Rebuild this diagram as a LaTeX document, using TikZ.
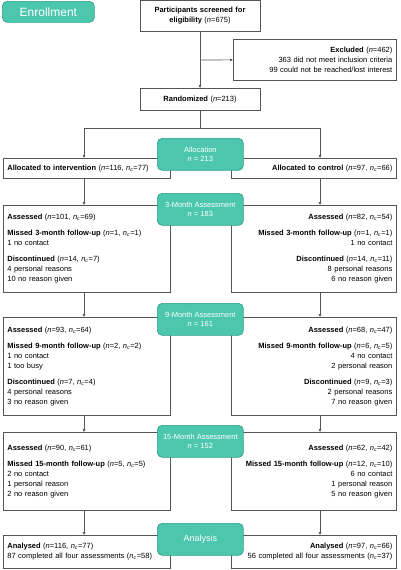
\documentclass[tikz,border=0pt]{standalone}
\usepackage{fontspec}
\setmainfont{Liberation Sans}
\usetikzlibrary{arrows.meta}

\definecolor{tealbox}{HTML}{4CC7AE}
\definecolor{tealedge}{HTML}{2E9E88}
\definecolor{linegray}{HTML}{555555}

\newcommand{\ncount}[2]{(\textit{n}=#1, \textit{n}\textsubscript{\textit{c}}=#2)}

\tikzset{
  box/.style={draw=linegray, fill=white, inner xsep=4pt, inner ysep=4pt,
    font=\fontsize{7.5}{10}\selectfont},
  lbox/.style={box, anchor=north west, text width=159pt, align=left},
  rbox/.style={box, anchor=north west, text width=157pt, align=right},
  phase/.style={draw=tealedge, fill=tealbox, rounded corners=5pt, text=white,
    font=\fontsize{7.5}{9.5}\selectfont, minimum width=86pt, minimum height=32pt,
    align=center, anchor=north west},
  conn/.style={draw=linegray, -{Triangle[length=3pt,width=2.5pt]}},
}

\begin{document}
\begin{tikzpicture}[x=1pt,y=-1pt,line width=0.7pt]
  \useasboundingbox (0,0) rectangle (400,570);

  % enrollment
  \node[phase, minimum width=92pt, minimum height=21pt,
    font=\fontsize{12}{14}\selectfont] (enrol) at (2,1) {Enrollment};
  \node[box, anchor=north, text width=112pt, align=center, minimum height=31pt]
    (screen) at (200,0) {\textbf{Participants screened for}\\\textbf{eligibility} (\textit{n}=675)};
  \node[box, anchor=north west, text width=155pt, align=right, minimum height=41pt]
    (excl) at (233,39) {\textbf{Excluded} (\textit{n}=462)\\
      363 did not meet inclusion criteria\\
      99 could not be reached/lost interest};
  \node[box, anchor=north, text width=112pt, align=center, minimum height=22pt]
    (rand) at (200,88) {\textbf{Randomized} (\textit{n}=213)};

  % allocation
  \node[lbox, minimum height=20pt] (alloci) at (3,158)
    {\textbf{Allocated to intervention} \ncount{116}{77}};
  \node[rbox, minimum height=20pt] (allocc) at (231,158)
    {\textbf{Allocated to control} \ncount{97}{66}};

  % 3 months
  \node[lbox, minimum height=87pt] (m3i) at (3,205)
    {\textbf{Assessed} \ncount{101}{69}\\[6pt]
     \textbf{Missed 3-month follow-up} \ncount{1}{1}\\
     1 no contact\\[6pt]
     \textbf{Discontinued} \ncount{14}{7}\\
     4 personal reasons\\
     10 no reason given};
  \node[rbox, minimum height=87pt] (m3c) at (231,205)
    {\textbf{Assessed} \ncount{82}{54}\\[6pt]
     \textbf{Missed 3-month follow-up} \ncount{1}{1}\\
     1 no contact\\[6pt]
     \textbf{Discontinued} \ncount{14}{11}\\
     8 personal reasons\\
     6 no reason given};

  % 9 months
  \node[lbox, minimum height=98pt] (m9i) at (3,317)
    {\textbf{Assessed} \ncount{93}{64}\\[6pt]
     \textbf{Missed 9-month follow-up} \ncount{2}{2}\\
     1 no contact\\
     1 too busy\\[6pt]
     \textbf{Discontinued} \ncount{7}{4}\\
     4 personal reasons\\
     3 no reason given};
  \node[rbox, minimum height=98pt] (m9c) at (231,317)
    {\textbf{Assessed} \ncount{68}{47}\\[6pt]
     \textbf{Missed 9-month follow-up} \ncount{6}{5}\\
     4 no contact\\
     2 personal reason\\[6pt]
     \textbf{Discontinued} \ncount{9}{3}\\
     2 personal reasons\\
     7 no reason given};

  % 15 months
  \node[lbox, minimum height=78pt] (m15i) at (3,432)
    {\textbf{Assessed} \ncount{90}{61}\\[6pt]
     \textbf{Missed 15-month follow-up} \ncount{5}{5}\\
     2 no contact\\
     1 personal reason\\
     2 no reason given};
  \node[rbox, minimum height=78pt] (m15c) at (231,432)
    {\textbf{Assessed} \ncount{62}{42}\\[6pt]
     \textbf{Missed 15-month follow-up} \ncount{12}{10}\\
     6 no contact\\
     1 personal reason\\
     5 no reason given};

  % analysis
  \node[lbox, minimum height=33pt] (anai) at (3,535)
    {\textbf{Analysed} \ncount{116}{77}\\
     87 completed all four assessments (\textit{n}\textsubscript{\textit{c}}=58)};
  \node[rbox, minimum height=33pt] (anac) at (231,535)
    {\textbf{Analysed} \ncount{97}{66}\\
     56 completed all four assessments (\textit{n}\textsubscript{\textit{c}}=37)};

  % stage labels
  \node[phase] (pAlloc) at (157,138) {Allocation\\\textit{n} = 213};
  \node[phase] (p3) at (157,193) {3-Month Assessment\\\textit{n} = 183};
  \node[phase] (p9) at (157,303) {9-Month Assessment\\\textit{n} = 161};
  \node[phase] (p15) at (157,425) {15-Month Assessment\\\textit{n} = 152};
  \node[phase, font=\fontsize{9}{11}\selectfont] (pAna) at (157,523) {Analysis};

  % connectors
  \coordinate (exturn) at (200,60);
  \coordinate (split) at (200,128);
  \coordinate (lsplit) at (84,128);
  \coordinate (rsplit) at (320,128);
  \draw[conn] (screen.south) -- (rand.north);
  \draw[conn] (exturn) -- (excl.west);
  \draw[linegray] (rand.south) -- (split);
  \draw[linegray] (lsplit) -- (rsplit);
  \draw[conn] (lsplit) -- (lsplit |- alloci.north);
  \draw[conn] (rsplit) -- (rsplit |- allocc.north);
  \foreach \a/\b in {alloci/m3i, m3i/m9i, m9i/m15i, m15i/anai}
    \draw[conn] (lsplit |- \a.south) -- (lsplit |- \b.north);
  \foreach \a/\b in {allocc/m3c, m3c/m9c, m9c/m15c, m15c/anac}
    \draw[conn] (rsplit |- \a.south) -- (rsplit |- \b.north);
\end{tikzpicture}
\end{document}
